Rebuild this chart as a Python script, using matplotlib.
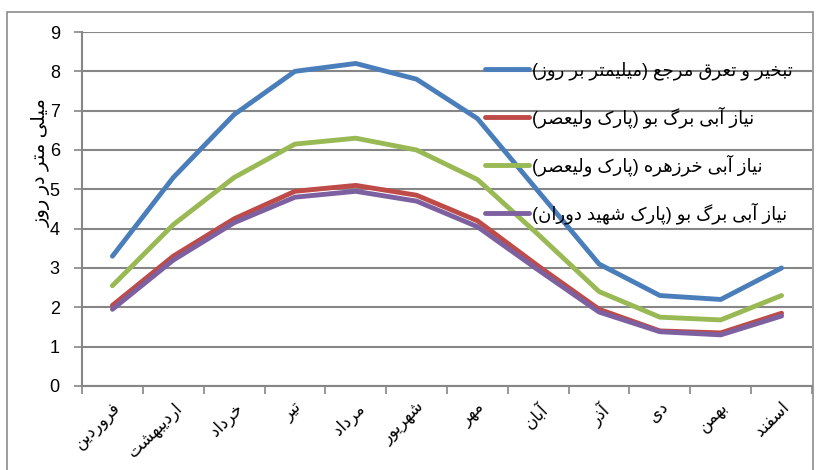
import matplotlib
matplotlib.use("Agg")
import matplotlib.pyplot as plt
from matplotlib.patches import Rectangle

plt.rcParams['font.family'] = ['Liberation Sans', 'DejaVu Sans']

# ---------------- data ----------------
months = ["فروردین", "اردیبهشت", "خرداد", "تیر", "مرداد", "شهریور",
          "مهر", "آبان", "آذر", "دی", "بهمن", "اسفند"]
et0 = [3.3, 5.3, 6.9, 8.0, 8.2, 7.8, 6.8, 4.95, 3.1, 2.3, 2.2, 3.0]
oleander_valiasr = [2.55, 4.1, 5.3, 6.15, 6.3, 6.0, 5.25, 3.85, 2.4, 1.75, 1.68, 2.3]
laurel_valiasr = [2.05, 3.3, 4.25, 4.95, 5.1, 4.85, 4.2, 3.05, 1.95, 1.4, 1.35, 1.85]
laurel_doran = [1.95, 3.2, 4.15, 4.8, 4.95, 4.7, 4.05, 2.95, 1.88, 1.38, 1.3, 1.78]
series_names = ["تبخیر و تعرق مرجع (میلیمتر بر روز)",
                "نیاز آبی برگ بو (پارک ولیعصر)",
                "نیاز آبی خرزهره (پارک ولیعصر)",
                "نیاز آبی برگ بو (پارک شهید دوران)"]
y_label = "میلی متر در روز"
y_ticks = [0, 1, 2, 3, 4, 5, 6, 7, 8, 9]

# ---------------- simple Arabic/Persian shaper ----------------
FORMS = {
    'ء': (0xFE80, None, None, None),
    'آ': (0xFE81, 0xFE82, None, None),
    'أ': (0xFE83, 0xFE84, None, None),
    'ؤ': (0xFE85, 0xFE86, None, None),
    'إ': (0xFE87, 0xFE88, None, None),
    'ئ': (0xFE89, 0xFE8A, 0xFE8B, 0xFE8C),
    'ا': (0xFE8D, 0xFE8E, None, None),
    'ب': (0xFE8F, 0xFE90, 0xFE91, 0xFE92),
    'ة': (0xFE93, 0xFE94, None, None),
    'ت': (0xFE95, 0xFE96, 0xFE97, 0xFE98),
    'ث': (0xFE99, 0xFE9A, 0xFE9B, 0xFE9C),
    'ج': (0xFE9D, 0xFE9E, 0xFE9F, 0xFEA0),
    'ح': (0xFEA1, 0xFEA2, 0xFEA3, 0xFEA4),
    'خ': (0xFEA5, 0xFEA6, 0xFEA7, 0xFEA8),
    'د': (0xFEA9, 0xFEAA, None, None),
    'ذ': (0xFEAB, 0xFEAC, None, None),
    'ر': (0xFEAD, 0xFEAE, None, None),
    'ز': (0xFEAF, 0xFEB0, None, None),
    'س': (0xFEB1, 0xFEB2, 0xFEB3, 0xFEB4),
    'ش': (0xFEB5, 0xFEB6, 0xFEB7, 0xFEB8),
    'ص': (0xFEB9, 0xFEBA, 0xFEBB, 0xFEBC),
    'ض': (0xFEBD, 0xFEBE, 0xFEBF, 0xFEC0),
    'ط': (0xFEC1, 0xFEC2, 0xFEC3, 0xFEC4),
    'ظ': (0xFEC5, 0xFEC6, 0xFEC7, 0xFEC8),
    'ع': (0xFEC9, 0xFECA, 0xFECB, 0xFECC),
    'غ': (0xFECD, 0xFECE, 0xFECF, 0xFED0),
    'ف': (0xFED1, 0xFED2, 0xFED3, 0xFED4),
    'ق': (0xFED5, 0xFED6, 0xFED7, 0xFED8),
    'ك': (0xFED9, 0xFEDA, 0xFEDB, 0xFEDC),
    'ل': (0xFEDD, 0xFEDE, 0xFEDF, 0xFEE0),
    'م': (0xFEE1, 0xFEE2, 0xFEE3, 0xFEE4),
    'ن': (0xFEE5, 0xFEE6, 0xFEE7, 0xFEE8),
    'ه': (0xFEE9, 0xFEEA, 0xFEEB, 0xFEEC),
    'و': (0xFEED, 0xFEEE, None, None),
    'ى': (0xFEEF, 0xFEF0, None, None),
    'ي': (0xFEF1, 0xFEF2, 0xFEF3, 0xFEF4),
    'پ': (0xFB56, 0xFB57, 0xFB58, 0xFB59),
    'چ': (0xFB7A, 0xFB7B, 0xFB7C, 0xFB7D),
    'ژ': (0xFB8A, 0xFB8B, None, None),
    'ک': (0xFB8E, 0xFB8F, 0xFB90, 0xFB91),
    'گ': (0xFB92, 0xFB93, 0xFB94, 0xFB95),
    'ی': (0xFBFC, 0xFBFD, 0xFBFE, 0xFBFF),
}
MIRROR = {'(': ')', ')': '('}


def shape(text):
    out = []
    n = len(text)
    for i, ch in enumerate(text):
        if ch not in FORMS:
            out.append(MIRROR.get(ch, ch))
            continue
        iso, fin, ini, med = FORMS[ch]
        prev = text[i - 1] if i > 0 else ''
        nxt = text[i + 1] if i + 1 < n else ''
        prev_joins = prev in FORMS and FORMS[prev][2] is not None
        next_joins = nxt in FORMS and fin is not None and ini is not None
        if prev_joins and next_joins and med:
            code = med
        elif prev_joins and fin:
            code = fin
        elif next_joins and ini:
            code = ini
        else:
            code = iso
        out.append(chr(code))
    return ''.join(reversed(out))


# ---------------- figure ----------------
fig = plt.figure(figsize=(8.17, 4.70), dpi=100)
ax = fig.add_axes([82 / 817, 1 - 386 / 470, (812 - 82) / 817, (386 - 32) / 470])

# outer border
fig.patches.append(Rectangle((7 / 817, -0.05), (813 - 7) / 817, 1.05 - 12 / 470,
                             transform=fig.transFigure, fill=False,
                             edgecolor='#8c8c8c', linewidth=1.2))

colors = ['#4A7EBB', '#BE4B48', '#98B954', '#7D60A0']
data = [et0, laurel_valiasr, oleander_valiasr, laurel_doran]
x = list(range(len(months)))
for vals, c, name in zip(data, colors, series_names):
    ax.plot(x, vals, color=c, linewidth=3.5, solid_capstyle='round',
            solid_joinstyle='round', label=shape(name))

ax.set_xlim(-0.5, len(months) - 0.5)
ax.set_ylim(0, 9)
ax.set_yticks(y_ticks)
ax.set_yticklabels([str(t) for t in y_ticks], fontsize=13)
ax.yaxis.grid(True, color='#868686', linewidth=1.5)
ax.set_axisbelow(True)

ax.set_xticks(x)
ax.set_xticklabels([shape(m) for m in months], rotation=45, ha='right',
                   rotation_mode='anchor', fontsize=12)
ax.set_xticks([i - 0.5 for i in range(len(months) + 1)], minor=True)
ax.tick_params(axis='x', which='major', length=0, pad=10)
ax.tick_params(axis='x', which='minor', length=6, color='#868686', width=1.2)
ax.tick_params(axis='y', length=6, color='#868686', width=1.2, pad=10)

for s in ['top', 'right']:
    ax.spines[s].set_visible(False)
for s in ['left', 'bottom']:
    ax.spines[s].set_color('#868686')
    ax.spines[s].set_linewidth(1.5)

fig.text(41 / 817, 1 - 163 / 470, shape(y_label), rotation=90,
         ha='center', va='center', fontsize=14)

leg = ax.legend(loc='upper left', bbox_to_anchor=((478 - 82) / 730, 1 - (54 - 32) / 354),
                frameon=False, fontsize=13, handlelength=2.4, handletextpad=0.2,
                labelspacing=1.45, borderaxespad=0)

fig.savefig('out.png', dpi=100)
